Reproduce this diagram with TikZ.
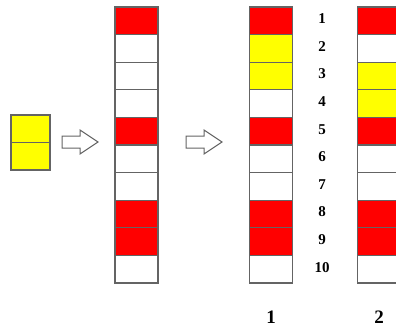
\documentclass[tikz,border=0pt]{standalone}
\usepackage{fontspec}
\setmainfont{Liberation Serif}
\definecolor{cellred}{RGB}{255,0,0}
\definecolor{cellyellow}{RGB}{255,255,0}
\definecolor{cellline}{RGB}{100,100,100}
\tikzset{
  cell/.style={draw=cellline, line width=1.2pt, minimum width=43pt, minimum height=27.6pt, inner sep=0pt},
  fatarrow/.pic={\draw[cellline, line width=1pt, fill=white] (-18,-6) -- (0,-6) -- (0,-12) -- (18,0) -- (0,12) -- (0,6) -- (-18,6) -- cycle;},
  num/.style={font=\bfseries\fontsize{15}{15}\selectfont, inner sep=0pt},
  colnum/.style={font=\bfseries\fontsize{19}{19}\selectfont, inner sep=0pt}
}
\begin{document}
\begin{tikzpicture}[x=1pt,y=-1pt]
  \useasboundingbox[fill=white] (0,0) rectangle (396,330);
  % the two-cell block
  \foreach \i in {1,2}
    \node[cell, fill=cellyellow, minimum width=39pt] (a\i) at (30.5,{115+27.5*(\i-0.5)}) {};
  \pic at (80,142) {fatarrow};
  % memory before insertion
  \foreach \c [count=\i] in {cellred,white,white,white,cellred,white,white,cellred,cellred,white}
    \node[cell, fill=\c] (m\i) at (136.5,{7+27.6*(\i-0.5)}) {};
  \pic at (204,142) {fatarrow};
  % first choice
  \foreach \c [count=\i] in {cellred,cellyellow,cellyellow,white,cellred,white,white,cellred,cellred,white} {
    \node[cell, fill=\c] (b\i) at (271,{7+27.6*(\i-0.5)}) {};
    \node[num] (n\i) at ([xshift=29pt,yshift=2pt]b\i.east) {\i};
  }
  % second choice
  \foreach \c [count=\i] in {cellred,white,cellyellow,cellyellow,cellred,white,white,cellred,cellred,white}
    \node[cell, fill=\c] (c\i) at (379,{7+27.6*(\i-0.5)}) {};
  \node[colnum] (l1) at ([yshift=-34pt]b10.south) {1};
  \node[colnum] (l2) at ([yshift=-34pt]c10.south) {2};
\end{tikzpicture}
\end{document}
